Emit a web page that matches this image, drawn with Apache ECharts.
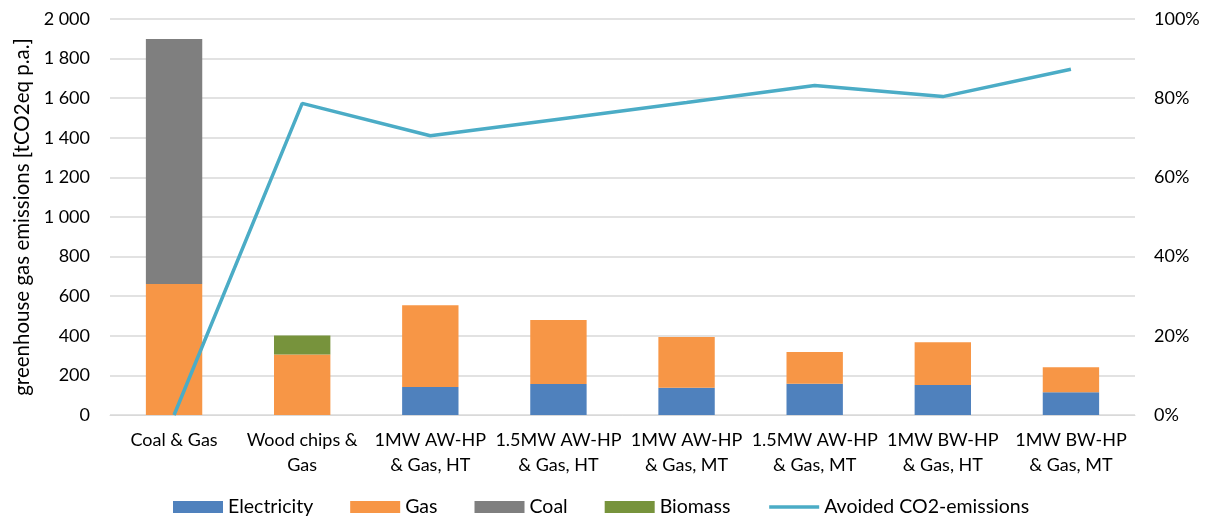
<!DOCTYPE html>
<html>
<head>
<meta charset="utf-8">
<script src="https://cdn.jsdelivr.net/npm/echarts@6/dist/echarts.min.js"></script>
<style>
  html, body { margin: 0; padding: 0; background: #fff; }
  #chart { width: 1209px; height: 517px; }
</style>
</head>
<body>
<div id="chart"></div>
<script>
// Heating scenarios and their yearly emissions by source (tCO2eq p.a.)
const categories = [
  'Coal & Gas', 'Wood chips &\nGas', '1MW AW-HP\n& Gas, HT', '1.5MW AW-HP\n& Gas, HT',
  '1MW AW-HP\n& Gas, MT', '1.5MW AW-HP\n& Gas, MT', '1MW BW-HP\n& Gas, HT', '1MW BW-HP\n& Gas, MT'
];
const electricity = [0, 0, 141, 157, 138, 158, 151, 115];
const gas = [662, 306, 413, 323, 256, 160, 216, 126];
const coal = [1237, 0, 0, 0, 0, 0, 0, 0];
const biomass = [0, 96, 0, 0, 0, 0, 0, 0];
// Share of CO2 emissions avoided relative to the coal & gas reference (%)
const avoided = [0, 78.7, 70.5, 74.7, 78.9, 83.2, 80.4, 87.3];

const FONT = 'Lato, "Open Sans", sans-serif';
const TXT = '#000';

const chart = echarts.init(document.getElementById('chart'), null, { renderer: 'canvas' });

function fmtThousands(v) {
  return String(v).replace(/\B(?=(\d{3})+(?!\d))/g, ' ');
}

function barSeries(name, data, color) {
  return {
    name, type: 'bar', stack: 'total', data,
    barWidth: '44%',
    itemStyle: { color },
    emphasis: { disabled: true },
    yAxisIndex: 0
  };
}

chart.setOption({
  animation: false,
  textStyle: { fontFamily: FONT },
  grid: { left: 110, right: 74, top: 19, bottom: 102 },
  legend: {
    top: 492,
    left: 168,
    itemWidth: 50,
    itemHeight: 12,
    itemGap: 37,
    textStyle: { fontSize: 19.5, color: TXT, fontFamily: FONT },
    data: [
      { name: 'Electricity', icon: 'rect' },
      { name: 'Gas', icon: 'rect' },
      { name: 'Coal', icon: 'rect' },
      { name: 'Biomass', icon: 'rect' },
      { name: 'Avoided CO2-emissions', itemStyle: { opacity: 0 }, lineStyle: { width: 3.5, color: '#4bacc6' } }
    ]
  },
  xAxis: {
    type: 'category',
    data: categories,
    axisLine: { lineStyle: { color: '#d9d9d9', width: 1 } },
    axisTick: { show: false },
    axisLabel: {
      color: TXT, fontSize: 18, fontFamily: FONT, lineHeight: 25, margin: 13, interval: 0
    }
  },
  yAxis: [
    {
      type: 'value', min: 0, max: 2000, interval: 200,
      name: 'greenhouse gas emissions [tCO2eq p.a.]',
      nameLocation: 'middle', nameGap: 77,
      nameTextStyle: { color: TXT, fontSize: 20.5, fontFamily: FONT },
      axisLine: { show: false }, axisTick: { show: false },
      splitLine: { lineStyle: { color: '#d9d9d9', width: 1.5 } },
      axisLabel: { color: TXT, fontSize: 18, fontFamily: FONT, margin: 20, formatter: fmtThousands }
    },
    {
      type: 'value', min: 0, max: 100, interval: 20, position: 'right',
      axisLine: { show: false }, axisTick: { show: false },
      splitLine: { show: false },
      axisLabel: { color: TXT, fontSize: 18, fontFamily: FONT, margin: 19, formatter: '{value}%' }
    }
  ],
  series: [
    barSeries('Electricity', electricity, '#4f81bd'),
    barSeries('Gas', gas, '#f79646'),
    barSeries('Coal', coal, '#7f7f7f'),
    barSeries('Biomass', biomass, '#77933c'),
    {
      name: 'Avoided CO2-emissions', type: 'line', yAxisIndex: 1, data: avoided,
      symbol: 'none', z: 5,
      lineStyle: { color: '#4bacc6', width: 3.5 },
      itemStyle: { color: '#4bacc6' },
      emphasis: { disabled: true }
    }
  ]
});
</script>
</body>
</html>
